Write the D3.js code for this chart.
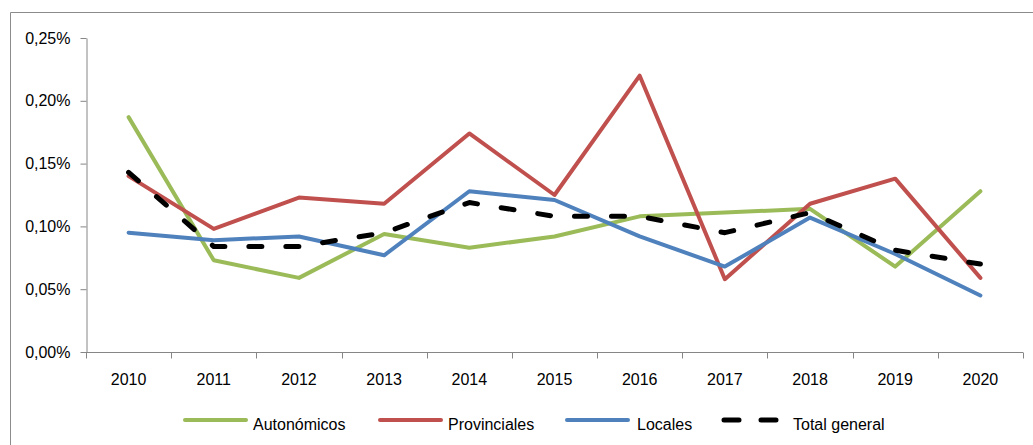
<!DOCTYPE html>
<html>
<head>
<meta charset="utf-8">
<script src="https://cdn.jsdelivr.net/npm/d3@7"></script>
<style>
  body { margin: 0; background: #fff; }
  svg text { font-family: "Liberation Sans", Arial, sans-serif; fill: #000; }
</style>
</head>
<body>
<div class="svg-container"></div>
<script>
var years = ["2010","2011","2012","2013","2014","2015","2016","2017","2018","2019","2020"];
var yTicks = [0, 0.05, 0.10, 0.15, 0.20, 0.25];

// values in %
var autonomicos  = [0.187, 0.073, 0.059, 0.094, 0.083, 0.092, 0.108, 0.111, 0.114, 0.068, 0.128];
var provinciales = [0.140, 0.098, 0.123, 0.118, 0.174, 0.125, 0.220, 0.058, 0.118, 0.138, 0.059];
var locales      = [0.095, 0.089, 0.092, 0.077, 0.128, 0.121, 0.092, 0.068, 0.107, 0.078, 0.045];
var total        = [0.143, 0.084, 0.084, 0.095, 0.119, 0.108, 0.108, 0.095, 0.111, 0.081, 0.070];

var seriesNames = ["Autonómicos", "Provinciales", "Locales", "Total general"];
var seriesColors = ["#9bbb59", "#c0504d", "#4f81bd", "#000000"];
var seriesData = [autonomicos, provinciales, locales, total];

var w = 1033, h = 445;
var canvas = d3.select(".svg-container").append("svg")
    .attr("width", w).attr("height", h);

// outer frame (chart area border)
canvas.append("path")
    .attr("d", "M10.5," + h + "V12.5H" + w)
    .attr("fill", "none")
    .attr("stroke", "#8c8c8c")
    .attr("stroke-width", 1);

var pLeft = 86, pRight = 1023, pTop = 38, pBottom = 352;

var x = d3.scaleBand().domain(years).range([pLeft, pRight]);
var y = d3.scaleLinear().domain([0, 0.25]).range([pBottom, pTop]);

var fmt = function(d) { return d3.format(".2f")(d).replace(".", ",") + "%"; };

// y axis
var yAxis = canvas.append("g")
    .attr("transform", "translate(" + (pLeft + 0.5) + ",0)")
    .call(d3.axisLeft(y).tickValues(yTicks).tickFormat(fmt).tickSizeInner(6).tickSizeOuter(0).tickPadding(10));
yAxis.select(".domain").attr("stroke", "#868686");
yAxis.selectAll(".tick line").attr("stroke", "#868686");
yAxis.selectAll("text").attr("font-size", "16px").attr("font-family", "Liberation Sans, Arial, sans-serif").attr("fill", "#000");

// x axis: ticks on band edges
var xg = canvas.append("g").attr("transform", "translate(0," + (pBottom + 0.5) + ")");
xg.append("line").attr("x1", pLeft).attr("x2", pRight).attr("stroke", "#868686");
var edges = years.map(function(d) { return x(d); }).concat([pRight]);
xg.selectAll(".edge").data(edges).enter().append("line")
    .attr("x1", function(d) { return Math.round(d) + 0.5; })
    .attr("x2", function(d) { return Math.round(d) + 0.5; })
    .attr("y1", 0).attr("y2", 6)
    .attr("stroke", "#868686");
xg.selectAll(".lbl").data(years).enter().append("text")
    .attr("x", function(d) { return x(d) + x.bandwidth() / 2; })
    .attr("y", 32)
    .attr("text-anchor", "middle")
    .attr("font-size", "16px")
    .text(function(d) { return d; });

var line = d3.line()
    .x(function(d, i) { return x(years[i]) + x.bandwidth() / 2; })
    .y(function(d) { return y(d); });

seriesData.forEach(function(data, k) {
    var p = canvas.append("path")
        .attr("d", line(data))
        .attr("fill", "none")
        .attr("stroke", seriesColors[k])
        .attr("stroke-linejoin", "round")
        .attr("stroke-linecap", "round")
        .attr("stroke-width", k === 3 ? 5 : 4);
    if (k === 3) p.attr("stroke-dasharray", "13,24");
});

// legend
var legendX = [183, 378, 565, 722];
var legendTextX = [253, 448, 637, 793];
var ly = 420;
seriesNames.forEach(function(name, k) {
    if (k === 3) {
        canvas.append("line")
            .attr("x1", legendX[k] + 2).attr("x2", legendX[k] + 56)
            .attr("y1", ly).attr("y2", ly)
            .attr("stroke", "#000").attr("stroke-width", 5)
            .attr("stroke-linecap", "round")
            .attr("stroke-dasharray", "15,22");
    } else {
        canvas.append("line")
            .attr("x1", legendX[k] + 2).attr("x2", legendX[k] + 63)
            .attr("y1", ly).attr("y2", ly)
            .attr("stroke", seriesColors[k]).attr("stroke-width", 4)
            .attr("stroke-linecap", "round");
    }
    canvas.append("text")
        .attr("x", legendTextX[k])
        .attr("y", ly + 10)
        .attr("font-size", "16px")
        .text(name);
});
</script>
</body>
</html>
